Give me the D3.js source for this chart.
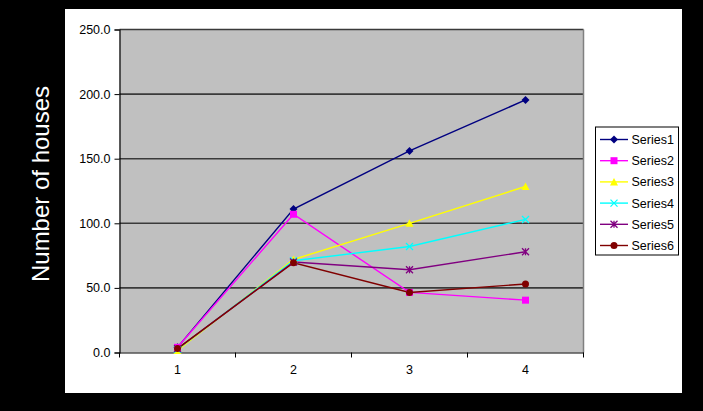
<!DOCTYPE html>
<html><head><meta charset="utf-8">
<script src="https://cdn.jsdelivr.net/npm/d3@7/dist/d3.min.js"></script>
<style>
html,body{margin:0;padding:0;background:#000;}
svg{display:block;}
text{font-family:"Liberation Sans",Arial,sans-serif;}
</style></head>
<body>
<svg id="c" width="703" height="411"></svg>
<script>
const categories = ["1","2","3","4"];
const seriesNames = ["Series1","Series2","Series3","Series4","Series5","Series6"];
const series1 = [4, 111, 156, 195.5];
const series2 = [4, 107, 46.5, 40.5];
const series3 = [1.5, 72, 100, 128.5];
const series4 = [2.5, 71, 82, 103];
const series5 = [3, 70, 64, 78];
const series6 = [3, 69.5, 46.5, 53];
const yTicks = [0, 50, 100, 150, 200, 250];
const yTitle = "Number of houses";

const seriesValues = [series1, series2, series3, series4, series5, series6];
const colors = ["#000080","#FF00FF","#FFFF00","#00FFFF","#800080","#800000"];
const shapes = ["diamond","square","triangle","x","star","circle"];

const svg = d3.select("#c");
svg.append("rect").attr("width",703).attr("height",411).attr("fill","#000");
svg.append("rect").attr("x",65).attr("y",9).attr("width",617).attr("height",384).attr("fill","#fff");

const m = {l:119.5, r:583.5, t:29.5, b:352.5};
const x = d3.scaleBand().domain(categories).range([m.l, m.r]);
const y = d3.scaleLinear().domain([0,250]).range([m.b, m.t]);

svg.append("rect").attr("x",m.l).attr("y",m.t).attr("width",m.r-m.l).attr("height",m.b-m.t)
  .attr("fill","#C0C0C0");
svg.append("g").selectAll("line").data(yTicks.filter(d=>d>0)).join("line")
  .attr("x1",m.l).attr("x2",m.r).attr("y1",d=>y(d)).attr("y2",d=>y(d))
  .attr("stroke","#3a3a3a").attr("stroke-width",1.6);
svg.append("line").attr("x1",m.r).attr("x2",m.r).attr("y1",m.t).attr("y2",m.b)
  .attr("stroke","#808080").attr("stroke-width",1.5);

const ya = svg.append("g").attr("transform",`translate(${m.l},0)`)
  .call(d3.axisLeft(y).tickValues(yTicks).tickFormat(d3.format(".1f")).tickSize(5).tickPadding(4));
ya.select(".domain").attr("stroke","#000").attr("stroke-width",1.2);
ya.selectAll(".tick line").attr("stroke","#000");
ya.selectAll("text").attr("font-size","12.5px").attr("fill","#000").attr("font-family","Liberation Sans, Arial, sans-serif");

const xa = svg.append("g").attr("transform",`translate(0,${m.b})`)
  .call(d3.axisBottom(x).tickSize(0).tickPadding(13).tickSizeOuter(0));
xa.select(".domain").attr("stroke","#000").attr("stroke-width",1.2);
xa.selectAll("text").attr("font-size","12.5px").attr("fill","#000").attr("font-family","Liberation Sans, Arial, sans-serif");
const bounds = categories.map(c=>x(c)).concat([x(categories[categories.length-1])+x.step()]);
xa.append("g").selectAll("line").data(bounds).join("line")
  .attr("x1",d=>d).attr("x2",d=>d).attr("y1",0).attr("y2",5).attr("stroke","#000").attr("stroke-width",1);

svg.append("text").attr("transform",`translate(49,184) rotate(-90)`)
  .attr("text-anchor","middle").attr("fill","#fff").attr("font-size","24px").text(yTitle);

function marker(g, shape, color, s){
  const h=s/2;
  if(shape==="diamond"){
    const d=h+0.5;
    g.append("path").attr("d",`M0,${-d}L${d},0L0,${d}L${-d},0Z`).attr("fill",color);
  } else if(shape==="square"){
    g.append("rect").attr("x",-h).attr("y",-h).attr("width",s).attr("height",s).attr("fill",color);
  } else if(shape==="triangle"){
    g.append("path").attr("d",`M0,${-h-0.5}L${h+0.5},${h}L${-h-0.5},${h}Z`).attr("fill",color);
  } else if(shape==="x"){
    g.append("path").attr("d",`M${-h},${-h}L${h},${h}M${-h},${h}L${h},${-h}`).attr("stroke",color).attr("stroke-width",1.3);
  } else if(shape==="star"){
    g.append("path").attr("d",`M${-h},${-h}L${h},${h}M${-h},${h}L${h},${-h}M0,${-h}L0,${h}`).attr("stroke",color).attr("stroke-width",1.3);
  } else {
    g.append("circle").attr("r",h).attr("fill",color);
  }
}

const cx = c => x(c) + x.bandwidth()/2;
const line = d3.line().x((d,i)=>cx(categories[i])).y(d=>y(d));
const plot = svg.append("g");
seriesValues.forEach((vals,k)=>{
  plot.append("path").attr("d",line(vals)).attr("fill","none").attr("stroke",colors[k]).attr("stroke-width",1.4);
});
seriesValues.forEach((vals,k)=>{
  vals.forEach((v,i)=>{
    const g = plot.append("g").attr("transform",`translate(${cx(categories[i])},${y(v)})`);
    marker(g, shapes[k], colors[k], 7);
  });
});

const lg = svg.append("g");
lg.append("rect").attr("x",595.5).attr("y",127).attr("width",83).attr("height",128)
  .attr("fill","#fff").attr("stroke","#000").attr("stroke-width",1);
const ly = d3.scalePoint().domain(seriesNames).range([139.5, 245.5]);
seriesNames.forEach((n,k)=>{
  const yy = ly(n);
  lg.append("line").attr("x1",600).attr("x2",628).attr("y1",yy).attr("y2",yy).attr("stroke",colors[k]).attr("stroke-width",1.4);
  const g = lg.append("g").attr("transform",`translate(614,${yy})`);
  marker(g, shapes[k], colors[k], 7);
  lg.append("text").attr("x",631.5).attr("y",yy).attr("dy","0.36em").attr("font-size","12.5px").attr("fill","#000").text(n);
});
</script>
</body></html>
